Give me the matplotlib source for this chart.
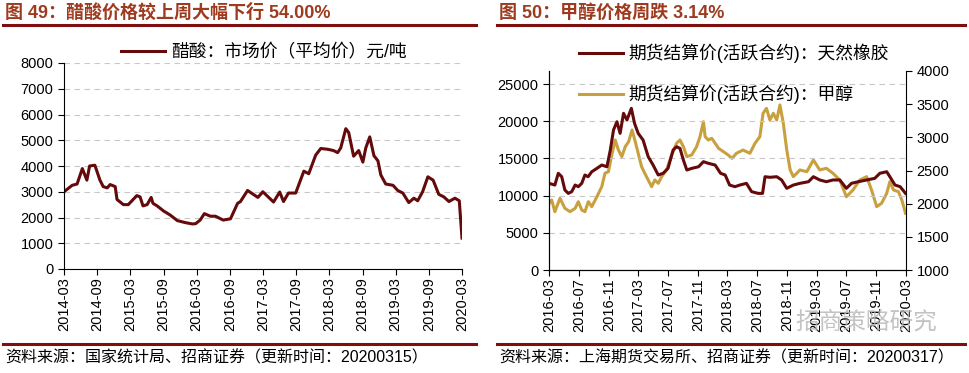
import numpy as np
import pandas as pd
import matplotlib
matplotlib.use('Agg')
import matplotlib.pyplot as plt
import matplotlib.dates as mdates
from matplotlib.lines import Line2D

plt.rcParams['font.family'] = ['Liberation Sans', 'Noto Sans CJK SC', 'DejaVu Sans']

# %% data: acetic acid market price (yuan/ton)
acetic_dates = ['2014-03-01', '2014-04-15', '2014-05-12', '2014-06-10', '2014-07-05', '2014-07-20',
                '2014-08-18', '2014-09-15', '2014-10-03', '2014-10-25', '2014-11-10', '2014-12-08',
                '2014-12-18', '2015-01-22', '2015-02-18', '2015-04-06', '2015-04-24', '2015-05-10',
                '2015-06-02', '2015-06-24', '2015-07-04', '2015-07-27', '2015-09-01', '2015-10-06',
                '2015-11-15', '2015-12-30', '2016-02-06', '2016-02-24', '2016-03-20', '2016-04-12',
                '2016-05-15', '2016-06-12', '2016-07-25', '2016-09-03', '2016-10-12', '2016-10-28',
                '2016-12-06', '2017-02-01', '2017-02-28', '2017-04-28', '2017-06-01', '2017-06-22',
                '2017-07-19', '2017-08-28', '2017-10-12', '2017-11-08', '2017-12-16', '2018-01-13',
                '2018-02-20', '2018-03-24', '2018-04-16', '2018-05-03', '2018-05-31', '2018-06-16',
                '2018-07-13', '2018-08-10', '2018-09-02', '2018-09-18', '2018-10-10', '2018-11-02',
                '2018-11-24', '2018-12-10', '2019-01-06', '2019-02-15', '2019-03-13', '2019-04-10',
                '2019-05-13', '2019-06-10', '2019-07-01', '2019-07-28', '2019-08-26', '2019-09-24',
                '2019-10-25', '2019-11-22', '2019-12-20', '2020-01-22', '2020-02-15', '2020-03-01']
acetic_price = [3000, 3250, 3300, 3900, 3450, 4000,
                4030, 3450, 3200, 3150, 3280, 3200,
                2700, 2500, 2500, 2850, 2800, 2450,
                2500, 2780, 2550, 2450, 2250, 2100,
                1880, 1800, 1750, 1760, 1900, 2150,
                2050, 2050, 1900, 1950, 2550, 2620,
                3050, 2780, 3000, 2600, 2990, 2620,
                2950, 2950, 3800, 3700, 4420, 4680,
                4650, 4600, 4520, 4700, 5450, 5300,
                4380, 4600, 4150, 4700, 5130, 4400,
                4200, 3650, 3300, 3250, 3050, 2950,
                2580, 2750, 2650, 3000, 3580, 3450,
                2900, 2800, 2620, 2750, 2650, 1200]

# %% data: futures settlement prices, rubber (left axis) and methanol (right axis)
rubber_dates = ['2016-03-01', '2016-03-25', '2016-04-08', '2016-04-22', '2016-05-05', '2016-05-19',
                '2016-06-02', '2016-06-16', '2016-06-29', '2016-07-13', '2016-07-26', '2016-08-08',
                '2016-08-23', '2016-09-13', '2016-10-03', '2016-10-24', '2016-11-07', '2016-11-20',
                '2016-12-04', '2016-12-17', '2016-12-31', '2017-01-14', '2017-02-01', '2017-02-14',
                '2017-03-01', '2017-03-21', '2017-04-11', '2017-05-01', '2017-05-22', '2017-06-11',
                '2017-07-01', '2017-07-22', '2017-08-05', '2017-08-19', '2017-09-02', '2017-09-16',
                '2017-10-06', '2017-11-03', '2017-11-23', '2017-12-13', '2018-01-10', '2018-02-01',
                '2018-02-20', '2018-03-10', '2018-04-01', '2018-04-21', '2018-05-18', '2018-06-08',
                '2018-07-05', '2018-07-23', '2018-08-02', '2018-08-22', '2018-09-19', '2018-10-09',
                '2018-10-30', '2018-11-26', '2018-12-23', '2019-01-27', '2019-02-16', '2019-03-14',
                '2019-04-10', '2019-05-07', '2019-06-04', '2019-07-01', '2019-07-22', '2019-08-19',
                '2019-09-22', '2019-10-25', '2019-11-15', '2019-12-13', '2019-12-26', '2020-01-16',
                '2020-02-06', '2020-02-28']
rubber_price = [11650, 11420, 13000, 12540, 10750, 10300,
                10530, 11420, 11200, 11650, 12770, 12540,
                13210, 13660, 14110, 13880, 16130, 18820,
                19930, 18370, 21060, 20160, 21730, 19720,
                18370, 17470, 15230, 14110, 12770, 13000,
                13660, 16130, 16570, 16350, 14780, 13440,
                13660, 13880, 14560, 14340, 14110, 13000,
                12770, 11420, 11200, 11420, 11650, 10530,
                10300, 10300, 12540, 12460, 12540, 12100,
                10980, 11420, 11650, 11870, 12540, 12100,
                11870, 12100, 12100, 10980, 11650, 11870,
                12100, 12320, 13000, 13210, 12540, 11420,
                11200, 10300]

methanol_dates = ['2016-03-01', '2016-03-12', '2016-03-25', '2016-04-15', '2016-05-05', '2016-05-26',
                  '2016-06-16', '2016-06-29', '2016-07-13', '2016-07-26', '2016-08-09', '2016-08-23',
                  '2016-09-13', '2016-10-03', '2016-10-16', '2016-10-30', '2016-11-13', '2016-11-27',
                  '2016-12-10', '2016-12-24', '2017-01-07', '2017-01-21', '2017-02-04', '2017-02-17',
                  '2017-03-01', '2017-03-15', '2017-03-28', '2017-04-11', '2017-04-25', '2017-05-08',
                  '2017-05-22', '2017-06-05', '2017-06-25', '2017-07-16', '2017-08-05', '2017-08-19',
                  '2017-09-02', '2017-09-16', '2017-10-06', '2017-10-26', '2017-11-09', '2017-11-23',
                  '2017-11-30', '2017-12-13', '2017-12-27', '2018-01-10', '2018-01-24', '2018-02-13',
                  '2018-03-04', '2018-03-20', '2018-04-07', '2018-05-04', '2018-06-01', '2018-06-22',
                  '2018-07-12', '2018-07-25', '2018-08-08', '2018-08-22', '2018-09-05', '2018-09-19',
                  '2018-10-02', '2018-10-16', '2018-10-30', '2018-11-13', '2018-11-26', '2018-12-23',
                  '2019-01-20', '2019-02-16', '2019-03-14', '2019-04-10', '2019-05-07', '2019-06-04',
                  '2019-07-01', '2019-07-28', '2019-08-25', '2019-09-22', '2019-10-12', '2019-11-02',
                  '2019-11-22', '2019-12-13', '2019-12-26', '2020-01-10', '2020-01-30', '2020-02-13',
                  '2020-02-28']
methanol_price = [2005, 2055, 1879, 2081, 1930, 1879,
                  1930, 2030, 1905, 1879, 2030, 1955,
                  2105, 2256, 2458, 2482, 2734, 2960,
                  2809, 2709, 2859, 2935, 3111, 2935,
                  2759, 2557, 2458, 2357, 2256, 2357,
                  2307, 2407, 2508, 2734, 2910, 2960,
                  2859, 2709, 2734, 2859, 3010, 3236,
                  3010, 2960, 2985, 2910, 2834, 2784,
                  2734, 2683, 2759, 2809, 2759, 2910,
                  3010, 3362, 3437, 3261, 3362, 3261,
                  3488, 3211, 2809, 2508, 2407, 2508,
                  2482, 2658, 2508, 2533, 2458, 2357,
                  2105, 2206, 2357, 2407, 2206, 1955,
                  2005, 2156, 2332, 2206, 2181, 2055,
                  1854]

title_left = '图 49：醋酸价格较上周大幅下行 54.00%'
title_right = '图 50：甲醇价格周跌 3.14%'
label_acetic = '醋酸：市场价（平均价）元/吨'
label_rubber = '期货结算价(活跃合约)：天然橡胶'
label_methanol = '期货结算价(活跃合约)：甲醇'
source_left = '资料来源：国家统计局、招商证券（更新时间：20200315）'
source_right = '资料来源：上海期货交易所、招商证券（更新时间：20200317）'

c_dark = '#650A0A'
c_gold = '#C9A03E'
c_rule = '#7F0F0F'
c_title = '#9E3A1E'
W, H = 970, 373


def fx(px):
    return px / W


def fy(py):
    return 1 - py / H


def style_axis(ax):
    for s in ['top', 'right']:
        ax.spines[s].set_visible(False)
    ax.tick_params(axis='both', labelsize=10.5, length=4, direction='out', color='k')
    ax.tick_params(axis='x', rotation=90, pad=2)
    ax.yaxis.grid(True, linestyle=(0, (5, 4)), color='#C8C8C8', linewidth=0.8)
    ax.set_axisbelow(True)


fg = plt.figure(figsize=(W / 100, H / 100), dpi=100)

# %% header and footer rules/text
for x0, x1, ttl, src in [(3, 476, title_left, source_left), (497, 965, title_right, source_right)]:
    fg.add_artist(Line2D([fx(x0), fx(x1)], [fy(25), fy(25)], color=c_rule, lw=2.2, transform=fg.transFigure))
    fg.add_artist(Line2D([fx(x0), fx(x1)], [fy(344), fy(344)], color=c_rule, lw=2.2, transform=fg.transFigure))
    fg.text(fx(x0 + 2), fy(13), ttl, fontsize=13, fontweight='bold', color=c_title, va='center')
    fg.text(fx(x0 + 2), fy(358), src, fontsize=11.5, color='k', va='center')

# %% left: acetic acid
ax = fg.add_axes([fx(64), fy(269), fx(462 - 64), (269 - 63) / H])
t = pd.to_datetime(acetic_dates)
ax.plot(t, acetic_price, color=c_dark, lw=2.2, label=label_acetic)
ax.set_ylim(0, 8000)
ax.set_yticks(np.arange(0, 8001, 1000))
ax.set_xlim(pd.Timestamp('2014-03-01'), pd.Timestamp('2020-03-01'))
ax.xaxis.set_major_locator(mdates.MonthLocator(bymonth=(3, 9)))
ax.xaxis.set_major_formatter(mdates.DateFormatter('%Y-%m'))
style_axis(ax)
ax.legend(loc='upper left', bbox_to_anchor=(fx(121), fy(44)), bbox_transform=fg.transFigure,
          frameon=False, fontsize=12.8, handlelength=2.5, handletextpad=0.3, borderpad=0, borderaxespad=0)

# %% right: rubber and methanol
ax1 = fg.add_axes([fx(549), fy(270), fx(906 - 549), (270 - 71) / H])
ax2 = ax1.twinx()
h1, = ax1.plot(pd.to_datetime(rubber_dates), rubber_price, color=c_dark, lw=2.2, label=label_rubber)
h2, = ax2.plot(pd.to_datetime(methanol_dates), methanol_price, color=c_gold, lw=2.2, label=label_methanol)
ax1.set_ylim(0, 26750)
ax1.set_yticks(np.arange(0, 25001, 5000))
ax2.set_ylim(1000, 4000)
ax2.set_yticks(np.arange(1000, 4001, 500))
ax1.set_xlim(pd.Timestamp('2016-03-01'), pd.Timestamp('2020-03-01'))
ax1.xaxis.set_major_locator(mdates.MonthLocator(bymonth=(3, 7, 11)))
ax1.xaxis.set_major_formatter(mdates.DateFormatter('%Y-%m'))
style_axis(ax1)
ax2.spines['top'].set_visible(False)
ax2.spines['right'].set_visible(True)
ax2.tick_params(axis='y', labelsize=10.5, length=4, direction='out')
ax1.set_zorder(ax2.get_zorder() + 1)
ax1.patch.set_visible(False)
ax2.set_zorder(0)
fg.legend([h1, h2], [label_rubber, label_methanol], loc='upper left',
          bbox_to_anchor=(fx(579), fy(44)), bbox_transform=fg.transFigure,
          frameon=False, fontsize=12.8, handlelength=2.5, handletextpad=0.3, borderpad=0,
          borderaxespad=0, labelspacing=1.2)

# watermark
fg.text(fx(795), fy(322), '招商策略研究', fontsize=17, color='#B4B4B4', alpha=0.8, va='center')

fg.savefig('out.png', dpi=100)
